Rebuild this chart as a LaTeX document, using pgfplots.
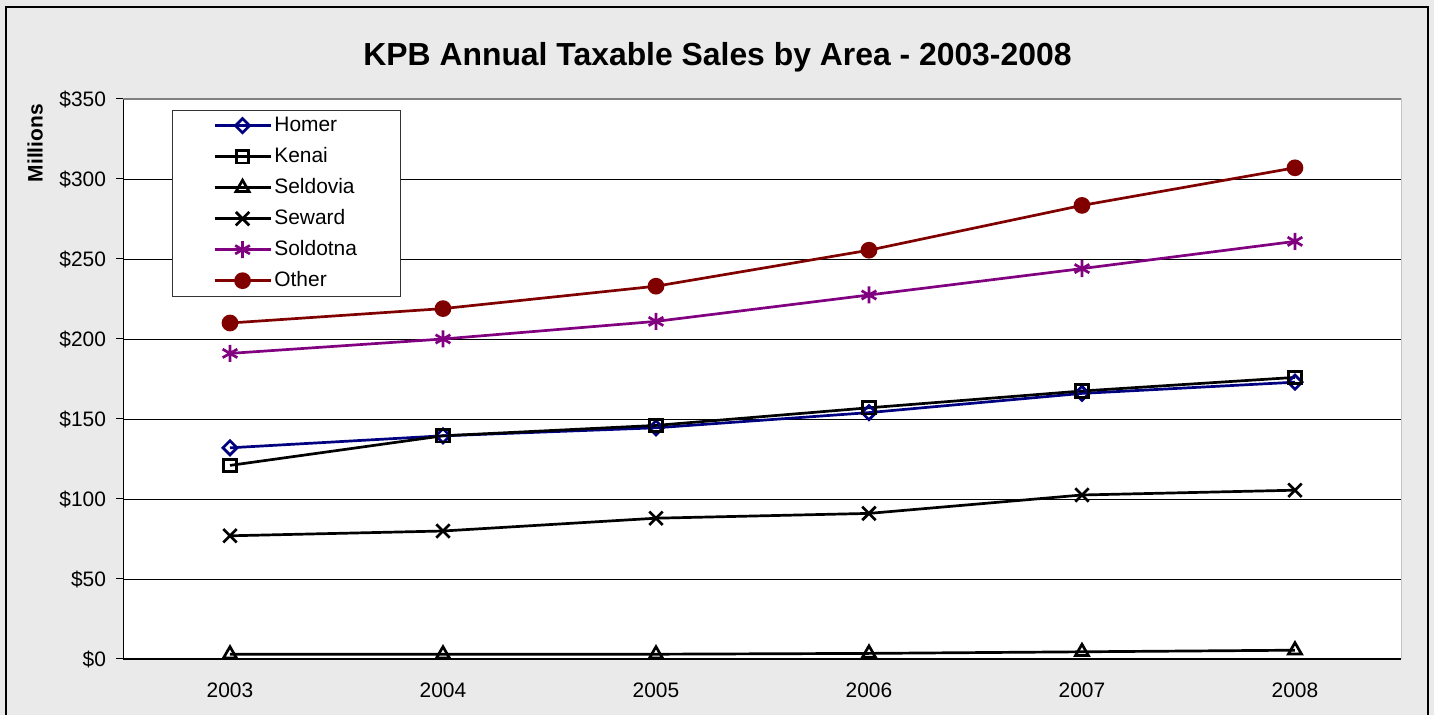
\documentclass[border=0pt]{standalone}
\usepackage{pgfplots}
\pgfplotsset{compat=1.18}
\usepackage{fontspec}
\setmainfont{Liberation Sans}
\definecolor{bg}{HTML}{EAEAEA}
\definecolor{homer}{HTML}{000080}
\definecolor{soldotna}{HTML}{800080}
\definecolor{other}{HTML}{800000}
\pgfplotsset{ser/.style={line width=2.7bp}}
\begin{document}
\begin{tikzpicture}
% background and frame of the chart area (1 px = 1 bp)
\path[use as bounding box, fill=bg] (-123.5bp,-56bp) rectangle (1310.5bp,659bp);
\draw[line width=2bp] (-117bp,-70bp) -- (-117bp,652bp) -- (1304bp,652bp) -- (1304bp,-70bp);
\begin{axis}[
    at={(0,0)}, anchor=south west,
    scale only axis,
    width=1278bp, height=560bp,
    xmin=-0.5, xmax=5.5,
    ymin=0, ymax=350,
    axis x line=bottom, axis y line=left,
    axis line style={-, line width=1.3bp, black},
    axis background/.style={fill=white},
    xtick={0,...,5},
    xticklabels={2003,2004,2005,2006,2007,2008},
    xtick style={draw=none},
    minor xtick={-0.5,0.5,...,5.5},
    minor x tick style={black, line width=1bp},
    ytick={0,50,...,350},
    ytick style={black, line width=1bp},
    tick align=outside,
    major tick length=7bp, minor tick length=7bp,
    ymajorgrids,
    major grid style={black, line width=0.9bp},
    yticklabel={\$\pgfmathprintnumber{\tick}},
    /pgf/number format/assume math mode=true,
    tick label style={font=\fontsize{21}{25}\selectfont},
    xticklabel style={yshift=-13bp},
    yticklabel style={xshift=-7bp},
    ylabel={Millions},
    ylabel style={at={(rel axis cs:-0.0692,0.921)}, anchor=center, font=\fontsize{21}{25}\selectfont\bfseries},
    title={KPB Annual Taxable Sales by Area - 2003-2008},
    title style={at={(rel axis cs:0.4648,1.05)}, anchor=base, font=\fontsize{32}{38}\selectfont\bfseries},
    legend image code/.code={\draw[line width=2.7bp, mark repeat=2, mark phase=2, #1] plot coordinates {(0bp,0bp) (28bp,0bp) (56bp,0bp)};},
    legend cell align=left,
    legend style={at={(rel axis cs:0.03795,0.9804)}, anchor=north west,
        draw=black!80, fill=white,
        inner xsep=41bp, inner ysep=0bp,
        font=\fontsize{21}{25}\selectfont,
        nodes={inner xsep=2.5bp, inner ysep=5bp, text height=16bp, text depth=5bp}},
]
\addplot[ser, homer, mark=square, mark size=5bp, mark options={solid, fill=white, rotate=45}]
    coordinates {(0,132) (1,139.5) (2,144.5) (3,154) (4,166) (5,173)};
\addlegendentry{Homer}
\addplot[ser, black, mark=square, mark size=6.2bp, mark options={solid, fill=white}]
    coordinates {(0,121) (1,139.5) (2,146) (3,157) (4,167.5) (5,176)};
\addlegendentry{Kenai}
\addplot[ser, black, mark=triangle, mark size=7.5bp, mark options={solid, fill=white}]
    coordinates {(0,3) (1,3) (2,3) (3,3.5) (4,4.5) (5,5.5)};
\addlegendentry{Seldovia}
\addplot[ser, black, mark=x, mark size=9.5bp, mark options={solid}]
    coordinates {(0,77) (1,80) (2,88) (3,91) (4,102.5) (5,105.5)};
\addlegendentry{Seward}
\addplot[ser, soldotna, mark=asterisk, mark size=8.5bp, mark options={solid}]
    coordinates {(0,191) (1,200) (2,211) (3,227.5) (4,244) (5,261)};
\addlegendentry{Soldotna}
\addplot[ser, other, mark=*, mark size=7bp, mark options={solid, fill=other}]
    coordinates {(0,210) (1,219) (2,233) (3,255.5) (4,283.5) (5,307)};
\addlegendentry{Other}
\draw[gray, line width=1.3bp] (rel axis cs:0,1) -- (rel axis cs:1,1) -- (rel axis cs:1,0);
\end{axis}
\end{tikzpicture}
\end{document}
